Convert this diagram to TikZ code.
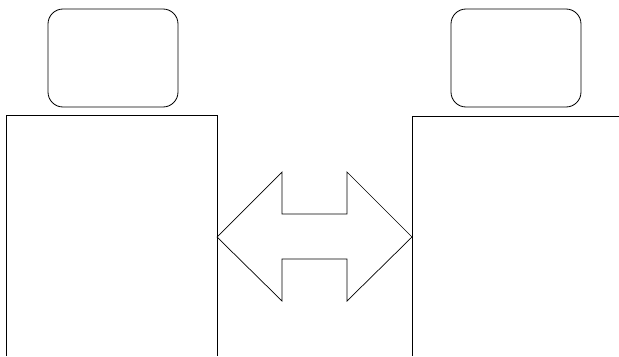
\documentclass[tikz,border=0pt]{standalone}
\usepackage{tikz}

\begin{document}
\begin{tikzpicture}[x=0.03cm,y=-0.03cm,line width=0.7pt,
  head/.style={draw,rounded corners=0.45cm,minimum width=3.9cm,minimum height=2.94cm,inner sep=0pt}]
\useasboundingbox (0,0) rectangle (619,356);
% heads
\node[head] (headL) at (113,58) {};
\node[head] (headR) at (516,58) {};
% bodies
\coordinate (bodyL) at (6,115);
\coordinate (bodyR) at (412,116);
\draw (bodyL |- 0,356) -- (bodyL) -- (217,115) -- (217,356);
\draw (619,116) -- (bodyR) -- (bodyR |- 0,356);
% double arrow between them
\coordinate (tipL) at (217,237);
\coordinate (tipR) at (412,237);
\draw[line width=0.6pt] (tipL) -- (282,172) -- (282,214) -- (347,214) -- (347,172) -- (tipR)
  -- (347,301) -- (347,259) -- (282,259) -- (282,301) -- cycle;
\end{tikzpicture}
\end{document}
